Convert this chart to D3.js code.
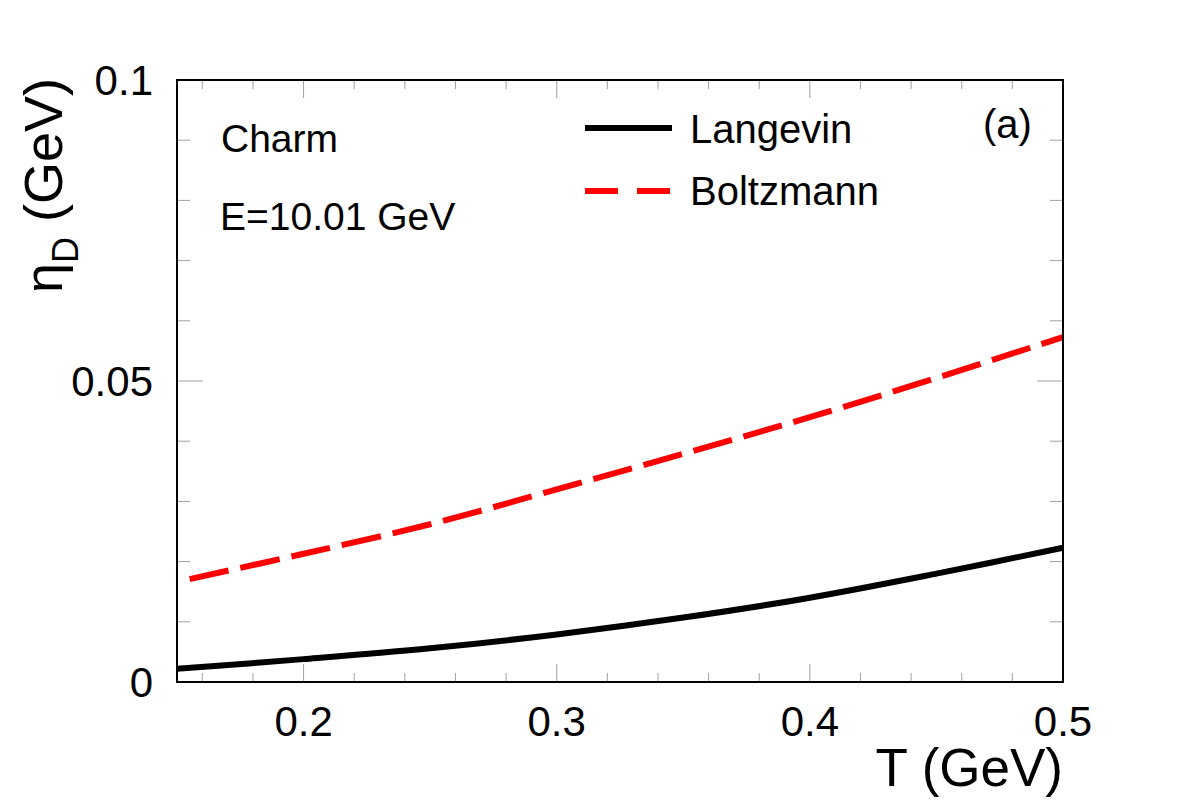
<!DOCTYPE html>
<html lang="en">
<head>
<meta charset="utf-8">
<title>eta_D vs T</title>
<script src="https://cdn.jsdelivr.net/npm/d3@7"></script>
<style>
  body { margin: 0; background: #fff; }
  text { font-family: "Liberation Sans", Arial, sans-serif; fill: #000; }
</style>
</head>
<body>
<svg id="chart" width="1182" height="803"></svg>
<script>
// values
const langevinT = [0.15, 0.2, 0.25, 0.3, 0.35, 0.4, 0.45, 0.5]
const langevinEta = [0.0022, 0.0038, 0.0056, 0.0079, 0.0107, 0.0140, 0.0180, 0.0223]
const boltzT = [0.155, 0.2, 0.25, 0.3, 0.35, 0.4, 0.45, 0.5]
const boltzEta = [0.0171, 0.0213, 0.0262, 0.0320, 0.0379, 0.0440, 0.0505, 0.0573]
const xTickLabels = [0.2, 0.3, 0.4, 0.5]
const yTickLabels = [0, 0.05, 0.1]

const svg = d3.select("#chart")
const margin = {left: 177, right: 1063, top: 80, bottom: 682}

const x = d3.scaleLinear().domain([0.15, 0.5]).range([margin.left, margin.right])
const y = d3.scaleLinear().domain([0, 0.1]).range([margin.bottom, margin.top])

// ticks: minor every 0.02 on x, 0.01 on y
const xMinor = d3.range(0.16, 0.5001, 0.02).map(v => +v.toFixed(2))
const yMinor = d3.range(0.01, 0.1, 0.01).map(v => +v.toFixed(2))
const isMajorX = v => Math.abs(v * 10 - Math.round(v * 10)) < 1e-6
const isMajorY = v => Math.abs(v * 20 - Math.round(v * 20)) < 1e-6

const ticks = svg.append("g").attr("stroke", "#a0a0a0").attr("stroke-width", 1)
xMinor.forEach(v => {
  let len = isMajorX(v) ? 18 : 9
  ticks.append("line").attr("x1", x(v)).attr("x2", x(v))
    .attr("y1", margin.bottom).attr("y2", margin.bottom - len)
  ticks.append("line").attr("x1", x(v)).attr("x2", x(v))
    .attr("y1", margin.top).attr("y2", margin.top + len)
})
yMinor.forEach(v => {
  let len = isMajorY(v) ? 26 : 13
  ticks.append("line").attr("y1", y(v)).attr("y2", y(v))
    .attr("x1", margin.left).attr("x2", margin.left + len)
  ticks.append("line").attr("y1", y(v)).attr("y2", y(v))
    .attr("x1", margin.right).attr("x2", margin.right - len)
})

// curves
const line = d3.line().x(d => x(d[0])).y(d => y(d[1])).curve(d3.curveCatmullRom)
svg.append("path")
  .datum(boltzT.map((t, i) => [t, boltzEta[i]]))
  .attr("d", line)
  .attr("fill", "none").attr("stroke", "#ff0000")
  .attr("stroke-width", 6).attr("stroke-dasharray", "40,12")
svg.append("path")
  .datum(langevinT.map((t, i) => [t, langevinEta[i]]))
  .attr("d", line)
  .attr("fill", "none").attr("stroke", "#000")
  .attr("stroke-width", 6)

// frame
svg.append("rect")
  .attr("x", margin.left).attr("y", margin.top)
  .attr("width", margin.right - margin.left).attr("height", margin.bottom - margin.top)
  .attr("fill", "none").attr("stroke", "#000").attr("stroke-width", 2)

// tick labels
svg.selectAll(".xl").data(xTickLabels).enter().append("text")
  .attr("x", d => x(d)).attr("y", 736)
  .attr("text-anchor", "middle").attr("font-size", 42)
  .text(d => d)
svg.selectAll(".yl").data(yTickLabels).enter().append("text")
  .attr("x", 153).attr("y", d => y(d) + 15)
  .attr("text-anchor", "end").attr("font-size", 42)
  .text(d => d)

// axis titles
svg.append("text")
  .attr("x", 1063).attr("y", 786)
  .attr("text-anchor", "end").attr("font-size", 53)
  .text("T (GeV)")

let yt = svg.append("text")
  .attr("transform", "translate(62,78) rotate(-90)")
  .attr("text-anchor", "end").attr("font-size", 54)
yt.append("tspan").text("η")
yt.append("tspan").attr("dy", 16).attr("font-size", 36).text("D")
yt.append("tspan").attr("dy", -16).text(" (GeV)")

// annotations
svg.append("text").attr("x", 221).attr("y", 152).attr("font-size", 39).text("Charm")
svg.append("text").attr("x", 220).attr("y", 230).attr("font-size", 39).text("E=10.01 GeV")
svg.append("text").attr("x", 983).attr("y", 138).attr("font-size", 40).text("(a)")

// legend
svg.append("line").attr("x1", 585).attr("x2", 672).attr("y1", 128).attr("y2", 128)
  .attr("stroke", "#000").attr("stroke-width", 6)
svg.append("line").attr("x1", 585).attr("x2", 672).attr("y1", 191).attr("y2", 191)
  .attr("stroke", "#ff0000").attr("stroke-width", 6).attr("stroke-dasharray", "33,19")
svg.append("text").attr("x", 690).attr("y", 143).attr("font-size", 40).text("Langevin")
svg.append("text").attr("x", 690).attr("y", 205).attr("font-size", 40).text("Boltzmann")
</script>
</body>
</html>
